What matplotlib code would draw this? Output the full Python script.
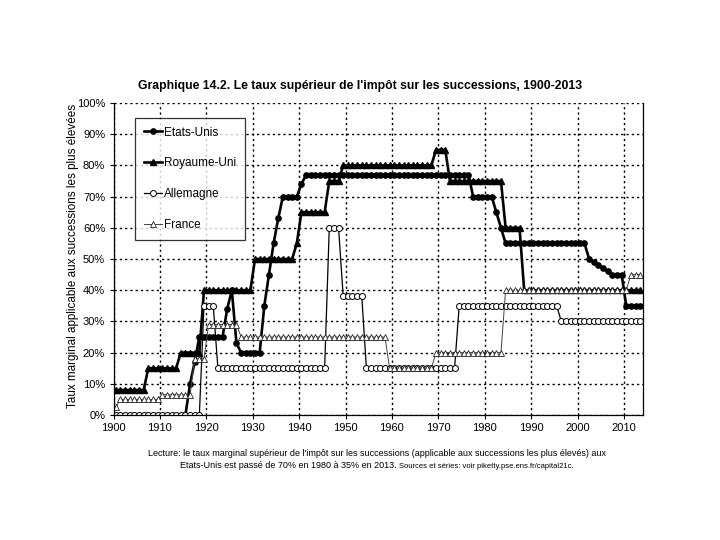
import matplotlib.pyplot as plt
import numpy as np

plt.rcParams['font.family'] = ['Liberation Sans', 'DejaVu Sans']

nan = np.nan
annees = list(range(1900, 2014))

# taux marginal supérieur (en %), une valeur par année 1900-2013
etats_unis = [
    nan, nan, nan, nan, nan, nan, nan, nan, nan, nan,
    nan, nan, nan, nan, nan, 0, 10, 17, 25, 25,
    25, 25, 25, 25, 34, 40, 23, 20, 20, 20,
    20, 20, 35, 45, 55, 63, 70, 70, 70, 70,
    74, 77, 77, 77, 77, 77, 77, 77, 77, 77,
    77, 77, 77, 77, 77, 77, 77, 77, 77, 77,
    77, 77, 77, 77, 77, 77, 77, 77, 77, 77,
    77, 77, 77, 77, 77, 77, 77, 70, 70, 70,
    70, 70, 65, 60, 55, 55, 55, 55, 55, 55,
    55, 55, 55, 55, 55, 55, 55, 55, 55, 55,
    55, 55, 50, 49, 48, 47, 46, 45, 45, 45,
    35, 35, 35, 35,
]
royaume_uni = [
    8, 8, 8, 8, 8, 8, 8, 15, 15, 15,
    15, 15, 15, 15, 20, 20, 20, 20, 20, 40,
    40, 40, 40, 40, 40, 40, 40, 40, 40, 40,
    50, 50, 50, 50, 50, 50, 50, 50, 50, 55,
    65, 65, 65, 65, 65, 65, 75, 75, 75, 80,
    80, 80, 80, 80, 80, 80, 80, 80, 80, 80,
    80, 80, 80, 80, 80, 80, 80, 80, 80, 85,
    85, 85, 75, 75, 75, 75, 75, 75, 75, 75,
    75, 75, 75, 75, 60, 60, 60, 60, 40, 40,
    40, 40, 40, 40, 40, 40, 40, 40, 40, 40,
    40, 40, 40, 40, 40, 40, 40, 40, 40, 40,
    40, 40, 40, 40,
]
allemagne = [
    0, 0, 0, 0, 0, 0, 0, 0, 0, 0,
    0, 0, 0, 0, 0, 0, 0, 0, 0, 35,
    35, 35, 15, 15, 15, 15, 15, 15, 15, 15,
    15, 15, 15, 15, 15, 15, 15, 15, 15, 15,
    15, 15, 15, 15, 15, 15, 60, 60, 60, 38,
    38, 38, 38, 38, 15, 15, 15, 15, 15, 15,
    15, 15, 15, 15, 15, 15, 15, 15, 15, 15,
    15, 15, 15, 15, 35, 35, 35, 35, 35, 35,
    35, 35, 35, 35, 35, 35, 35, 35, 35, 35,
    35, 35, 35, 35, 35, 35, 30, 30, 30, 30,
    30, 30, 30, 30, 30, 30, 30, 30, 30, 30,
    30, 30, 30, 30,
]
france = [
    2.5, 5, 5, 5, 5, 5, 5, 5, 5, 5,
    6.5, 6.5, 6.5, 6.5, 6.5, 6.5, 6.5, 18, 18, 18,
    29, 29, 29, 29, 29, 29, 29, 25, 25, 25,
    25, 25, 25, 25, 25, 25, 25, 25, 25, 25,
    25, 25, 25, 25, 25, 25, 25, 25, 25, 25,
    25, 25, 25, 25, 25, 25, 25, 25, 25, 15,
    15, 15, 15, 15, 15, 15, 15, 15, 15, 20,
    20, 20, 20, 20, 20, 20, 20, 20, 20, 20,
    20, 20, 20, 20, 40, 40, 40, 40, 40, 40,
    40, 40, 40, 40, 40, 40, 40, 40, 40, 40,
    40, 40, 40, 40, 40, 40, 40, 40, 40, 40,
    40, 45, 45, 45,
]

fig = plt.figure(figsize=(7.2, 5.4), dpi=100)
ax = fig.add_axes([113.5 / 720, 1 - 415 / 540, 529 / 720, 312 / 540])

ax.plot(annees, etats_unis, color='black', lw=1.9, marker='o', ms=3.8,
        mfc='black', mec='black', label='Etats-Unis')
ax.plot(annees, royaume_uni, color='black', lw=1.9, marker='^', ms=4.2,
        mfc='black', mec='black', label='Royaume-Uni')
ax.plot(annees, allemagne, color='black', lw=0.9, marker='o', ms=4.3,
        mfc='white', mec='black', mew=0.7, label='Allemagne')
ax.plot(annees, france, color='#444444', lw=0.7, marker='^', ms=4.5,
        mfc='white', mec='#222222', mew=0.6, label='France')

ax.set_xlim(1899.5, 2013.5)
ax.set_ylim(0, 100)

pos_x = np.arange(1899.5, 2010, 10)
ax.set_xticks(pos_x)
ax.set_xticklabels([str(int(p + 0.5)) for p in pos_x])
ax.set_yticks(np.arange(0, 101, 10))
ax.set_yticklabels([f'{v}%' for v in range(0, 101, 10)])
ax.tick_params(axis='both', labelsize=8, direction='out', length=3, width=0.8, pad=3)

ax.grid(True, color='black', lw=1.0, ls=(0, (1.6, 2.2)))
ax.set_axisbelow(True)
ax.spines['top'].set_visible(False)
for s in ['left', 'bottom', 'right']:
    ax.spines[s].set_linewidth(0.9)

leg = ax.legend(loc='upper left', bbox_to_anchor=(0.041, 0.953), borderaxespad=0,
                fontsize=8.5, frameon=True, fancybox=False, edgecolor='black',
                labelspacing=1.6, handlelength=1.5, handletextpad=0.15,
                borderpad=0.75)
leg.get_frame().set_linewidth(0.9)

fig.text(360 / 720, 1 - 86 / 540,
         "Graphique 14.2. Le taux supérieur de l'impôt sur les successions, 1900-2013",
         ha='center', va='center', fontsize=8.8, fontweight='bold')
fig.text(73 / 720, 1 - 256 / 540, 'Taux marginal applicable aux successions les plus élevées',
         rotation=90, ha='center', va='center', fontsize=8.4)

# légende sous le graphique
cx = 377 / 720
fig.text(cx, 1 - 453 / 540,
         "Lecture: le taux marginal supérieur de l'impôt sur les successions (applicable aux successions les plus élevés) aux",
         ha='center', va='center', fontsize=6.5)
t1 = fig.text(0, 1 - 466 / 540, "Etats-Unis est passé de 70% en 1980 à 35% en 2013. ",
              ha='left', va='center', fontsize=6.5)
t2 = fig.text(0, 1 - 466 / 540, "Sources et séries: voir piketty.pse.ens.fr/capital21c.",
              ha='left', va='center', fontsize=5.5)
r = fig.canvas.get_renderer()
w1 = t1.get_window_extent(r).width / 720
w2 = t2.get_window_extent(r).width / 720
x0 = cx - (w1 + w2) / 2
t1.set_x(x0)
t2.set_x(x0 + w1)

fig.savefig('out.png', dpi=100)
